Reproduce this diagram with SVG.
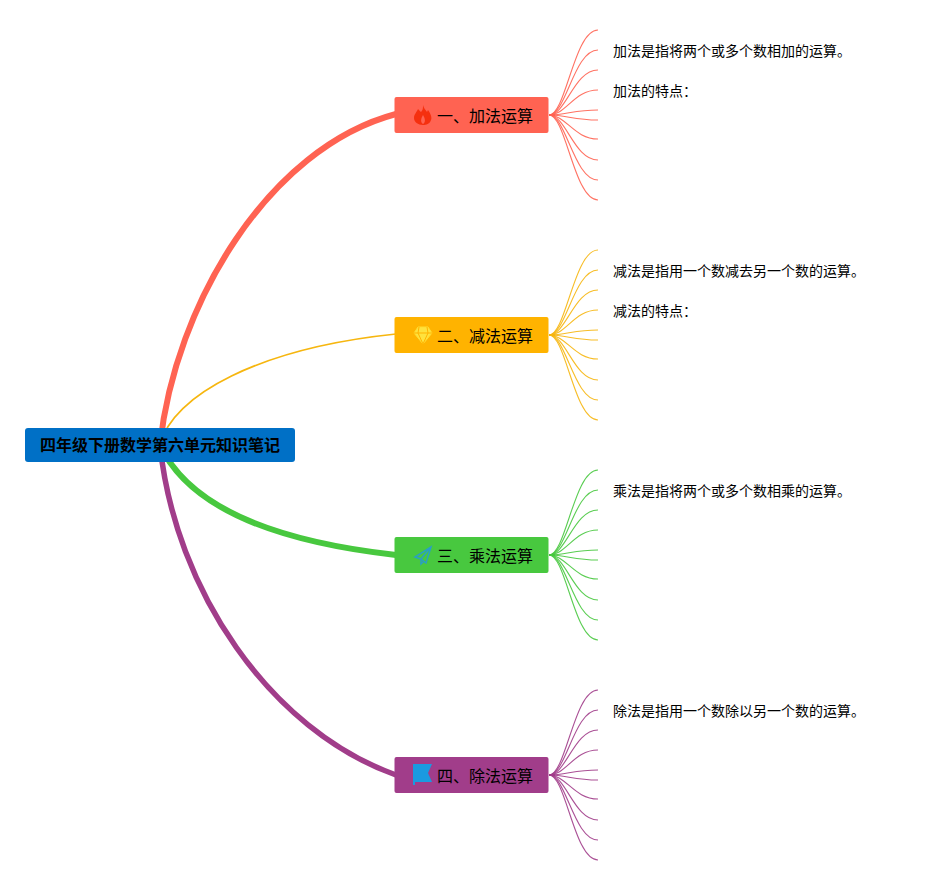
<svg xmlns="http://www.w3.org/2000/svg" width="925" height="885" viewBox="0 0 925 885">
<style>
text{font-family:"Noto Sans CJK SC","Liberation Sans",sans-serif;fill:#000}
.b{font-size:16px}
.t{font-size:14px}
.r{font-size:16px;font-weight:700}
.l{fill:none;stroke-width:1.100;stroke-opacity:.9}
.m{fill:none;stroke-linecap:butt}
</style>
<defs>
<g id="fan">
<path d="M549 115H555" stroke-width="2"/>
<path d="M549 115C566 115 574 30 598 30"/>
<path d="M549 115C566 115 574 50 598 50"/>
<path d="M549 115C566 115 574 70 598 70"/>
<path d="M549 115C566 115 574 90 598 90"/>
<path d="M549 115C566 115 574 110 598 110"/>
<path d="M549 115C566 115 574 120 598 120"/>
<path d="M549 115C566 115 574 139 598 139"/>
<path d="M549 115C566 115 574 160 598 160"/>
<path d="M549 115C566 115 574 180 598 180"/>
<path d="M549 115C566 115 574 200 598 200"/>
</g>
</defs>
<rect width="925" height="885" fill="#fff"/>
<g id="connectors">
<path class="m" d="M160 445C175 305 268 148 396 114" stroke="#ff6352" stroke-width="6"/>
<path class="m" d="M160 445C172 395 260 348 396 334" stroke="#f6b60f" stroke-width="1.700"/>
<path class="m" d="M160 445C190 510 280 542 396 555" stroke="#48c83f" stroke-width="6"/>
<path class="m" d="M160 445C175 590 270 730 396 775" stroke="#a13d8a" stroke-width="5.500"/>
<use href="#fan" class="l" stroke="#ff6352"/>
<use href="#fan" class="l" stroke="#f6b60f" y="220"/>
<use href="#fan" class="l" stroke="#48c83f" y="440"/>
<use href="#fan" class="l" stroke="#a13d8a" y="660"/>
</g>
<g id="root">
<rect x="25" y="428" width="270" height="34" rx="3" fill="#0070c6"/>
<text class="r" x="160" y="451" text-anchor="middle">四年级下册数学第六单元知识笔记</text>
</g>
<g id="n1">
<rect x="394.500" y="97" width="154" height="36" rx="2" fill="#ff6352"/>
<path d="M423 105C424 109 426 110 427 112L428 110C431 114 432 118 431 120C430 124 426 125 423 125C418 125 414 122 414 118C414 114 417 112 418 109C420 111 420 111 421 112C423 110 423 108 423 105Z" fill="#f5300f"/>
<path d="M423 124C420 122 421 118 423 115C425 118 426 122 423 124Z" fill="#ff6352"/>
<text class="b" x="437" y="122">一、加法运算</text>
</g>
<g id="n2">
<rect x="394.500" y="317" width="154" height="36" rx="2" fill="#ffb300"/>
<path d="M418 327H428L432 333L423 344L414 333Z" fill="#ffe23d" stroke="#ffdc30" stroke-width="1"/>
<path d="M414 333H432M419 327L418 333L423 344L428 333L427 327" fill="none" stroke="#ffb300" stroke-width="1"/>
<text class="b" x="437" y="342">二、减法运算</text>
</g>
<g id="n3">
<rect x="394.500" y="537" width="154" height="36" rx="2" fill="#48c83f"/>
<path d="M431 547L415 557L421 559L426 563ZM431 547L421 559V564L424 561" fill="none" stroke="#2a9fc4" stroke-width="1.500"/>
<text class="b" x="437" y="562">三、乘法运算</text>
</g>
<g id="n4">
<rect x="394.500" y="757" width="154" height="36" rx="2" fill="#a13d8a"/>
<path d="M413 764H432L428 773L432 782H415V785H413Z" fill="#1a9ae0"/>
<text class="b" x="437" y="782">四、除法运算</text>
</g>
<g id="leaves">
<text class="t" x="613" y="56">加法是指将两个或多个数相加的运算。</text>
<text class="t" x="613" y="96">加法的特点：</text>
<text class="t" x="613" y="276">减法是指用一个数减去另一个数的运算。</text>
<text class="t" x="613" y="316">减法的特点：</text>
<text class="t" x="613" y="496">乘法是指将两个或多个数相乘的运算。</text>
<text class="t" x="613" y="716">除法是指用一个数除以另一个数的运算。</text>
</g>
</svg>
